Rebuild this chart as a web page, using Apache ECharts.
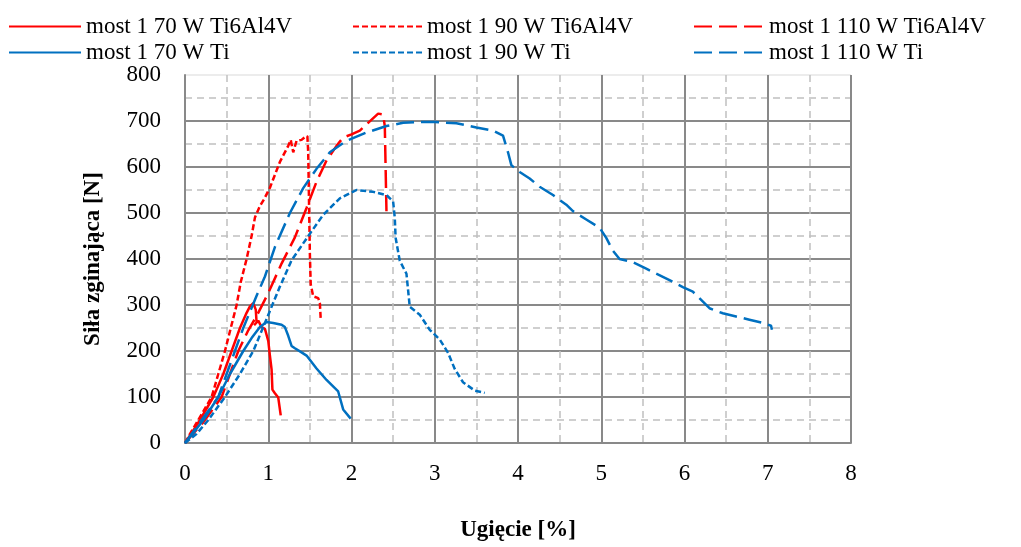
<!DOCTYPE html>
<html>
<head>
<meta charset="utf-8">
<script src="https://cdn.jsdelivr.net/npm/echarts@6/dist/echarts.min.js"></script>
<style>
html,body{margin:0;padding:0;background:#fff;}
#chart{width:1021px;height:547px;}
</style>
</head>
<body>
<div id="chart"></div>
<script>
// ---- data ----
var seriesNames = [
  'most 1 70 W Ti6Al4V', 'most 1 90 W Ti6Al4V', 'most 1 110 W Ti6Al4V',
  'most 1 70 W Ti', 'most 1 90 W Ti', 'most 1 110 W Ti'
];
var xTicks = [0, 1, 2, 3, 4, 5, 6, 7, 8];
var yTicks = [0, 100, 200, 300, 400, 500, 600, 700, 800];

var s70_Ti6Al4V = [[0,0],[0.08,22],[0.18,50],[0.34,100],[0.46,150],[0.56,200],[0.66,250],[0.74,283],[0.78,297],[0.82,304],[0.85,290],[0.86,262],[0.83,256],[0.88,266],[0.92,252],[0.96,248],[1.0,222],[1.02,190],[1.04,160],[1.05,116],[1.08,108],[1.12,99],[1.15,60]];
var s90_Ti6Al4V = [[0,0],[0.06,20],[0.16,50],[0.32,100],[0.4,150],[0.48,200],[0.55,250],[0.62,300],[0.67,350],[0.74,400],[0.8,450],[0.84,490],[0.9,515],[0.95,530],[1.02,555],[1.14,611],[1.24,646],[1.27,659],[1.3,632],[1.34,657],[1.4,659],[1.44,665],[1.47,667],[1.48,632],[1.49,520],[1.5,411],[1.51,345],[1.54,319],[1.6,315],[1.62,304],[1.63,270]];
var s110_Ti6Al4V = [[0,0],[0.22,45],[0.44,100],[0.54,150],[0.64,200],[0.76,245],[0.86,276],[1.0,326],[1.16,390],[1.32,447],[1.46,511],[1.58,568],[1.7,614],[1.82,646],[1.9,664],[2.0,671],[2.1,679],[2.2,696],[2.32,716],[2.38,714],[2.4,689],[2.42,504]];
var s70_Ti = [[0,0],[0.1,22],[0.22,50],[0.4,100],[0.54,150],[0.7,200],[0.8,228],[0.9,252],[0.98,263],[1.06,261],[1.16,257],[1.2,252],[1.24,233],[1.28,211],[1.32,206],[1.4,197],[1.46,190],[1.58,162],[1.7,137],[1.84,112],[1.9,73],[1.99,53]];
var s90_Ti = [[0,0],[0.14,20],[0.28,50],[0.48,100],[0.66,150],[0.82,200],[0.94,252],[1.14,340],[1.28,397],[1.5,455],[1.66,496],[1.86,532],[2.06,550],[2.26,546],[2.42,539],[2.5,525],[2.52,489],[2.53,446],[2.58,396],[2.66,368],[2.7,296],[2.82,279],[2.94,246],[3.06,225],[3.16,196],[3.24,161],[3.34,132],[3.48,114],[3.6,109]];
var s110_Ti = [[0,0],[0.2,50],[0.4,100],[0.5,150],[0.6,200],[0.7,250],[0.86,320],[0.96,362],[1.08,426],[1.26,500],[1.42,554],[1.58,596],[1.74,632],[1.94,657],[2.18,675],[2.42,689],[2.62,696],[2.8,698],[3.0,698],[3.26,695],[3.5,686],[3.7,679],[3.82,668],[3.88,632],[3.92,604],[4.02,589],[4.14,575],[4.26,557],[4.42,539],[4.58,518],[4.66,504],[4.82,486],[4.98,468],[5.06,446],[5.14,418],[5.22,400],[5.38,393],[5.54,379],[5.66,368],[5.82,354],[5.98,339],[6.1,329],[6.2,311],[6.3,293],[6.46,282],[6.62,275],[6.78,268],[6.94,261],[7.04,255],[7.05,246]];

var seriesData = [s70_Ti6Al4V, s90_Ti6Al4V, s110_Ti6Al4V, s70_Ti, s90_Ti, s110_Ti];
var seriesColors = ['#FF0000','#FF0000','#FF0000','#0070C0','#0070C0','#0070C0'];
var seriesDash = ['solid', [6,3], [18,7], 'solid', [6,3], [18,7]];

// ---- chart ----
var FONT = '"Liberation Serif", "Times New Roman", serif';
var chart = echarts.init(document.getElementById('chart'), null, {renderer:'canvas'});

var legendPos = [
  {left:8, top:15, w:72}, {left:352, top:15, w:69}, {left:693, top:15, w:70},
  {left:8, top:41, w:72}, {left:352, top:41, w:69}, {left:693, top:41, w:70}
];
var legends = seriesNames.map(function(n, i){
  return {
    data:[n], left:legendPos[i].left, top:legendPos[i].top,
    itemWidth:legendPos[i].w, itemHeight:14, padding:0,
    itemStyle:{opacity:0},
    textStyle:{fontFamily:FONT, fontSize:23, color:'#000'},
    selectedMode:false
  };
});

var series = seriesNames.map(function(n, i){
  return {
    name:n, type:'line', data:seriesData[i], showSymbol:false, symbol:'none',
    smooth:false, animation:false,
    lineStyle:{color:seriesColors[i], width:2.5, type:seriesDash[i], cap:'butt'},
    itemStyle:{color:seriesColors[i]}
  };
});

chart.setOption({
  backgroundColor:'#fff',
  animation:false,
  legend:legends,
  grid:{left:185, right:170, top:75, bottom:98, show:true, borderColor:'#d9d9d9', borderWidth:1, containLabel:false},
  xAxis:{
    type:'value', min:xTicks[0], max:xTicks[xTicks.length-1], interval:1,
    name:'Ugięcie [%]', nameLocation:'middle', nameGap:76,
    nameTextStyle:{fontFamily:FONT, fontSize:23, fontWeight:'bold', color:'#000'},
    axisLine:{show:true, lineStyle:{color:'#898989', width:2}},
    axisTick:{show:false},
    axisLabel:{fontFamily:FONT, fontSize:23, color:'#000', margin:19},
    splitLine:{show:true, showMinLine:false, showMaxLine:true, lineStyle:{color:'#898989', width:2}},
    minorTick:{show:false, splitNumber:2},
    minorSplitLine:{show:true, lineStyle:{color:'#c0c0c0', width:1.5, type:[7,5]}}
  },
  yAxis:{
    type:'value', min:yTicks[0], max:yTicks[yTicks.length-1], interval:100,
    name:'Siła zginająca [N]', nameLocation:'middle', nameGap:80,
    nameTextStyle:{fontFamily:FONT, fontSize:23, fontWeight:'bold', color:'#000'},
    axisLine:{show:true, lineStyle:{color:'#898989', width:2}},
    axisTick:{show:false},
    axisLabel:{fontFamily:FONT, fontSize:23, color:'#000', margin:24},
    splitLine:{show:true, showMinLine:false, showMaxLine:false, lineStyle:{color:'#898989', width:2}},
    minorTick:{show:false, splitNumber:2},
    minorSplitLine:{show:true, lineStyle:{color:'#c0c0c0', width:1.5, type:[7,5]}}
  },
  series:series
});
</script>
</body>
</html>
